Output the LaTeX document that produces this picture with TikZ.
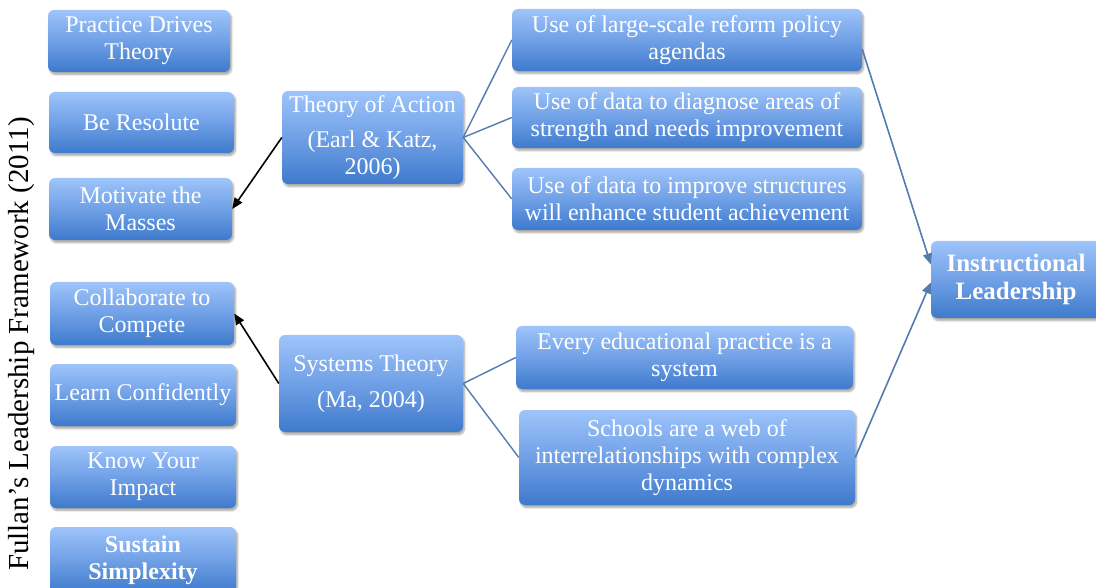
\documentclass[tikz,border=0pt]{standalone}
\usepackage{fontspec}
\setmainfont{Liberation Serif}
\usetikzlibrary{arrows.meta,shadows.blur}
\definecolor{boxtop}{RGB}{158,196,250}
\definecolor{boxmid}{RGB}{112,160,230}
\definecolor{boxbot}{RGB}{62,122,204}
\definecolor{linkblue}{RGB}{84,122,176}
\tikzset{
  blbox/.style={rounded corners=6pt, top color=boxtop, bottom color=boxbot, middle color=boxmid,
    text=white, align=center, inner sep=2pt,
    font=\fontsize{24}{27}\selectfont,
    blur shadow={shadow xshift=1.5pt, shadow yshift=-2.5pt, shadow blur steps=6, shadow opacity=35}},
  blackarrow/.style={draw=black, line width=1.6pt, -{Triangle[width=9pt,length=11pt]}},
  treeline/.style={draw=linkblue, line width=1.4pt},
  bluearrow/.style={draw=linkblue, line width=1.6pt, -{Triangle[width=9pt,length=11pt]}}
}
\begin{document}
\begin{tikzpicture}[x=1pt,y=-1pt]
\useasboundingbox (0,0) rectangle (1096,588);
% left column
\node[blbox, minimum width=182pt, minimum height=62pt] (pdt) at (139,41) {Practice Drives\\Theory};
\node[blbox, minimum width=185pt, minimum height=61pt] (br) at (141.5,122.5) {Be Resolute};
\node[blbox, minimum width=183pt, minimum height=62pt] (mm) at (140.5,209) {Motivate the\\Masses};
\node[blbox, minimum width=184pt, minimum height=63pt] (cc) at (142,313.5) {Collaborate to\\Compete};
\node[blbox, minimum width=186pt, minimum height=62pt] (lc) at (143,395) {Learn Confidently};
\node[blbox, minimum width=186pt, minimum height=62pt] (kyi) at (143,477) {Know Your\\Impact};
\node[blbox, minimum width=186pt, minimum height=66pt, font=\fontsize{24}{27}\selectfont\bfseries] (ss) at (143,560) {Sustain\\Simplexity};
% middle
\node[blbox, minimum width=181pt, minimum height=93pt] (toa) at (372.5,137.5) {Theory of Action\\[8pt](Earl \& Katz,\\2006)};
\node[blbox, minimum width=184pt, minimum height=97pt] (st) at (371,383.5) {Systems Theory\\[9pt](Ma, 2004)};
% right column
\node[blbox, minimum width=350pt, minimum height=62pt] (u1) at (687,40) {Use of large-scale reform policy\\agendas};
\node[blbox, minimum width=350pt, minimum height=61pt] (u2) at (687,117.5) {Use of data to diagnose areas of\\strength and needs improvement};
\node[blbox, minimum width=350pt, minimum height=62pt] (u3) at (687,199) {Use of data to improve structures\\will enhance student achievement};
\node[blbox, minimum width=337pt, minimum height=63pt] (ev) at (684.5,357.5) {Every educational practice is a\\system};
\node[blbox, minimum width=336pt, minimum height=95pt] (sc) at (687,457.5) {Schools are a web of\\interrelationships with complex\\dynamics};
\node[blbox, minimum width=170pt, minimum height=77pt, font=\fontsize{25}{28}\selectfont\bfseries] (il) at (1016,279.5) {Instructional\\Leadership};
% vertical title
\node[rotate=90, font=\fontsize{29}{32}\selectfont, text=black] (title) at (22,344) {Fullan's Leadership Framework (2011)};
% connectors
\draw[blackarrow] (toa.west) -- (mm.east);
\draw[blackarrow] (st.west) -- (cc.east);
\draw[treeline] (toa.east) -- (u1.west);
\draw[treeline] (toa.east) -- (u2.west);
\draw[treeline] (toa.east) -- (u3.west);
\draw[treeline] (st.east) -- (ev.west);
\draw[treeline] (st.east) -- (sc.west);
\draw[bluearrow] (u1.-3) -- (il.170);
\draw[bluearrow] (sc.east) -- (il.182);
\end{tikzpicture}
\end{document}
